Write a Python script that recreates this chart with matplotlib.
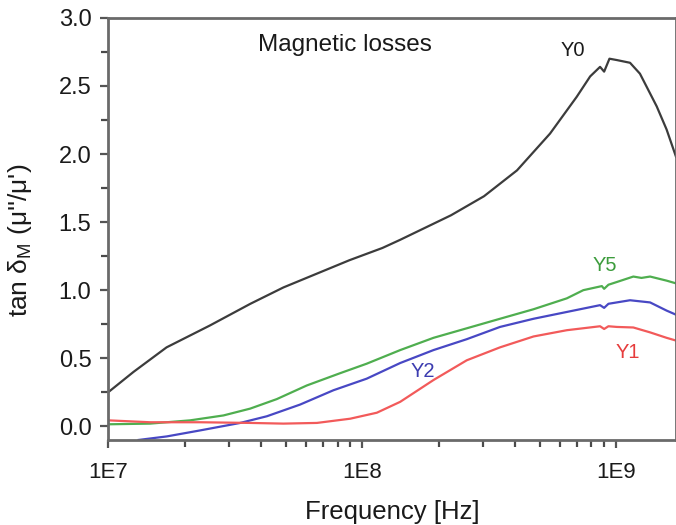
import matplotlib
matplotlib.use("Agg")
import matplotlib.pyplot as plt
from matplotlib.ticker import NullFormatter, MultipleLocator, FuncFormatter

plt.rcParams['font.family'] = ['Liberation Sans', 'DejaVu Sans']

# log10(frecuencia) y tan delta_M para cada muestra
x_y0 = [7.0, 7.10, 7.23, 7.40, 7.56, 7.69, 7.82, 7.95, 8.08, 8.15, 8.35, 8.48,
        8.61, 8.74, 8.845, 8.898, 8.937, 8.953, 8.974, 9.003, 9.029, 9.055,
        9.094, 9.127, 9.160, 9.199, 9.236]
y0 = [0.25, 0.40, 0.58, 0.74, 0.90, 1.02, 1.12, 1.22, 1.31, 1.37, 1.55, 1.69,
      1.88, 2.15, 2.42, 2.57, 2.64, 2.605, 2.70, 2.69, 2.68, 2.67,
      2.59, 2.47, 2.35, 2.18, 1.98]

x_y5 = [7.0, 7.165, 7.323, 7.454, 7.559, 7.664, 7.782, 7.913, 8.018, 8.150,
        8.281, 8.412, 8.543, 8.675, 8.806, 8.871, 8.944, 8.953, 8.97, 9.003,
        9.068, 9.10, 9.134, 9.199, 9.236]
y5 = [0.015, 0.02, 0.044, 0.08, 0.13, 0.20, 0.30, 0.39, 0.46, 0.56,
      0.65, 0.72, 0.79, 0.86, 0.94, 1.00, 1.03, 1.01, 1.04, 1.06,
      1.10, 1.09, 1.10, 1.07, 1.05]

x_y2 = [7.12, 7.231, 7.362, 7.52, 7.625, 7.756, 7.887, 8.018, 8.150, 8.281,
        8.412, 8.543, 8.675, 8.806, 8.937, 8.953, 8.97, 9.055, 9.134, 9.199,
        9.236]
y2 = [-0.10, -0.074, -0.03, 0.025, 0.074, 0.16, 0.265, 0.35, 0.465, 0.56,
      0.64, 0.73, 0.79, 0.84, 0.89, 0.87, 0.90, 0.926, 0.91, 0.85,
      0.82]

x_y1 = [7.0, 7.165, 7.362, 7.559, 7.69, 7.822, 7.953, 8.058, 8.150, 8.281,
        8.412, 8.543, 8.675, 8.806, 8.937, 8.953, 8.97, 9.003, 9.068, 9.134,
        9.199, 9.236]
y1 = [0.044, 0.03, 0.03, 0.025, 0.02, 0.025, 0.056, 0.10, 0.18, 0.34,
      0.485, 0.58, 0.66, 0.706, 0.735, 0.715, 0.735, 0.73, 0.726, 0.69,
      0.65, 0.63]

decadas = [1e7, 1e8, 1e9]
etiquetas = ['1E7', '1E8', '1E9']
# marcas menores 2..9 de cada decada
menores = [m * d for d in decadas for m in range(2, 10)]

fig = plt.figure(figsize=(6.76, 5.25), dpi=100)
ax = fig.add_axes([0.160, 0.162, 0.840, 0.804])

ax.plot([10 ** v for v in x_y0], y0, color='#3c3c3c', lw=1.6)
ax.plot([10 ** v for v in x_y5], y5, color='#4fae4f', lw=1.6)
ax.plot([10 ** v for v in x_y2], y2, color='#4848c4', lw=1.6)
ax.plot([10 ** v for v in x_y1], y1, color='#f25a5a', lw=1.6)

ax.set_xscale('log')

ax.yaxis.set_major_locator(MultipleLocator(0.5))
ax.yaxis.set_minor_locator(MultipleLocator(0.25))
ax.yaxis.set_major_formatter(FuncFormatter(lambda v, p: f'{v:.1f}'))

for s in ax.spines.values():
    s.set_color('#6a6a6a')
    s.set_linewidth(2.0)

ax.tick_params(which='major', direction='out', length=6, width=1.6,
               color='#555555', labelcolor='#1a1a1a', pad=6)
ax.tick_params(which='minor', direction='out', length=5, width=1.6, color='#4a4a4a')
ax.tick_params(axis='x', which='major', labelsize=16, pad=10)
ax.tick_params(axis='y', which='major', labelsize=17)

ax.set_xticks(decadas)
ax.set_xticklabels(etiquetas)
ax.set_xticks(menores, minor=True)
ax.xaxis.set_minor_formatter(NullFormatter())

# limites despues de fijar las marcas, si no set_xticks los amplia
ax.set_xlim(1e7, 10 ** 9.236)
ax.set_ylim(-0.1, 3.0)

ax.set_xlabel('Frequency [Hz]', fontsize=18.5, color='#1a1a1a', labelpad=12)
ax.set_ylabel("tan δ$_\\mathregular{M}$ (μ''/μ')", fontsize=19, color='#1a1a1a')
ax.yaxis.set_label_coords(-0.130, 0.472)

ax.text(10 ** 7.59, 2.80, 'Magnetic losses', fontsize=17.5, color='#1a1a1a', va='center')
ax.text(10 ** 8.83, 2.76, 'Y0', fontsize=14.5, color='#1a1a1a', ha='center', va='center')
ax.text(10 ** 8.957, 1.18, 'Y5', fontsize=14.5, color='#3c9c3c', ha='center', va='center')
ax.text(10 ** 8.24, 0.40, 'Y2', fontsize=14.5, color='#3c3cb0', ha='center', va='center')
ax.text(10 ** 9.047, 0.54, 'Y1', fontsize=14.5, color='#e63c3c', ha='center', va='center')

fig.savefig('out.png', dpi=100)
